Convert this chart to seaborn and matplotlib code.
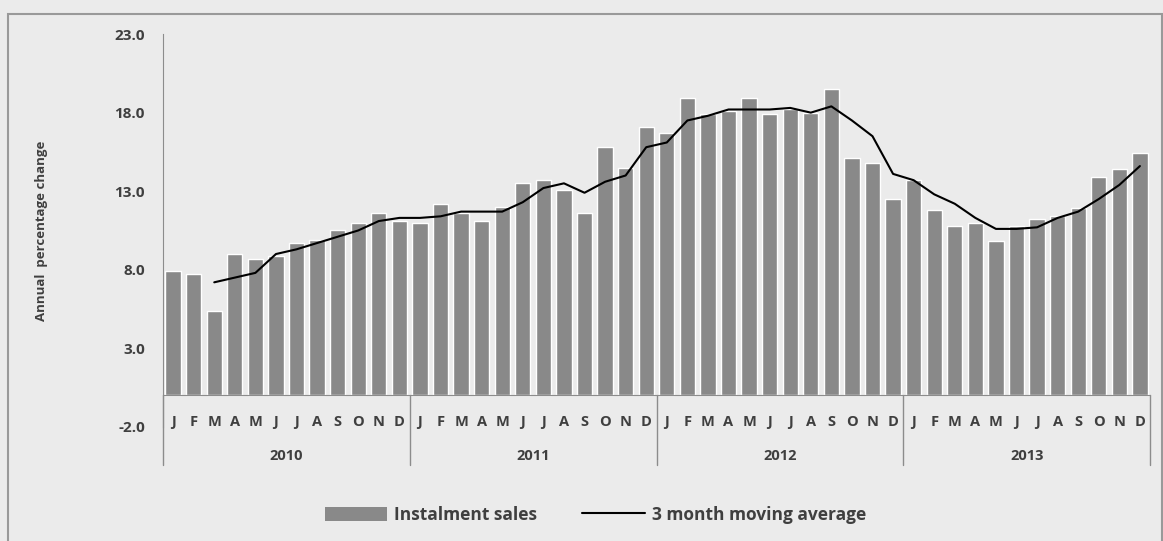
import numpy as np
import pandas as pd
import matplotlib.pyplot as plt
import seaborn as sns
from matplotlib.patches import Rectangle
from matplotlib.lines import Line2D
from matplotlib.patches import Patch

years = ["2010", "2011", "2012", "2013"]
months = ["J", "F", "M", "A", "M", "J", "J", "A", "S", "O", "N", "D"]

# Instalment sales, annual % change
sales_2010 = [7.9, 7.7, 5.4, 9.0, 8.7, 8.9, 9.7, 9.9, 10.5, 11.0, 11.6, 11.1]
sales_2011 = [11.0, 12.2, 11.6, 11.1, 12.0, 13.5, 13.7, 13.1, 11.6, 15.8, 14.5, 17.1]
sales_2012 = [16.7, 18.9, 17.9, 18.1, 18.9, 17.9, 18.2, 18.0, 19.5, 15.1, 14.8, 12.5]
sales_2013 = [13.7, 11.8, 10.8, 11.0, 9.8, 10.8, 11.2, 11.4, 11.9, 13.9, 14.4, 15.4]

# 3 month moving average
ma_2010 = [np.nan, np.nan, 7.2, 7.5, 7.8, 9.0, 9.3, 9.7, 10.1, 10.5, 11.1, 11.3]
ma_2011 = [11.3, 11.4, 11.7, 11.7, 11.7, 12.3, 13.2, 13.5, 12.9, 13.6, 14.0, 15.8]
ma_2012 = [16.1, 17.5, 17.8, 18.2, 18.2, 18.2, 18.3, 18.0, 18.4, 17.5, 16.5, 14.1]
ma_2013 = [13.7, 12.8, 12.2, 11.3, 10.6, 10.6, 10.7, 11.3, 11.7, 12.5, 13.4, 14.6]

sales = sales_2010 + sales_2011 + sales_2012 + sales_2013
ma = ma_2010 + ma_2011 + ma_2012 + ma_2013
df = pd.DataFrame({"idx": range(len(sales)), "sales": sales, "ma": ma})

bg = "#ebebeb"
bar_color = "#898989"
text_color = "#3f3f3f"
axis_color = "#8c8c8c"

sns.set_style("white")
plt.rcParams["font.family"] = ["Open Sans", "DejaVu Sans"]

fig = plt.figure(figsize=(11.63, 5.41), dpi=100, facecolor=bg)
ax = fig.add_axes([0.140, 0.211, 0.849, 0.726], facecolor=bg)

sns.barplot(data=df, x="idx", y="sales", color=bar_color, saturation=1,
            width=0.74, ax=ax)
sns.lineplot(data=df, x="idx", y="ma", color="black", linewidth=1.5, ax=ax)

ax.set_ylim(-2, 23)
ax.set_xlim(-0.5, 47.5)
ax.set_yticks([-2, 3, 8, 13, 18, 23])
ax.set_yticklabels([f"{v:.1f}" for v in [-2, 3, 8, 13, 18, 23]],
                   fontsize=11, fontweight="bold", color=text_color)
ax.tick_params(axis="y", length=5, width=1, color=axis_color, pad=8)

for s in ["top", "right"]:
    ax.spines[s].set_visible(False)
ax.spines["left"].set_color(axis_color)
ax.spines["bottom"].set_color(axis_color)
ax.spines["bottom"].set_position(("data", 0))

ax.set_xticks(range(48))
ax.set_xticklabels(months * 4, fontsize=10.5, fontweight="bold", color=text_color)
ax.tick_params(axis="x", length=0, pad=14)
ax.set_xlabel("")
ax.set_ylabel("Annual  percentage change", fontsize=9.5, fontweight="bold",
              color=text_color, labelpad=48)

# year separators and labels
for k in range(5):
    ax.plot([k * 12 - 0.5, k * 12 - 0.5], [0, -4.45], color=axis_color,
            lw=1, clip_on=False)
for k, yr in enumerate(years):
    ax.text(k * 12 + 5.5, -3.85, yr, ha="center", va="center", fontsize=10.5,
            fontweight="bold", color=text_color, clip_on=False)

handles = [Patch(facecolor=bar_color, edgecolor="none"),
           Line2D([0], [0], color="black", lw=1.5)]
fig.legend(handles, ["Instalment sales", "3 month moving average"],
           loc="center", bbox_to_anchor=(0.512, 0.048), ncol=2, frameon=False,
           handlelength=3.6, handleheight=0.9, handletextpad=0.4,
           columnspacing=2.6, prop={"size": 12.5, "weight": "bold"},
           labelcolor=text_color)

fig.patches.append(Rectangle((8 / 1163, -0.05), 1 - 8 / 1163 - 0.0005,
                             1.05 - 14 / 541, transform=fig.transFigure,
                             fill=False, edgecolor="#999999", lw=1.5))

fig.savefig("out.png", dpi=100, facecolor=bg)
plt.close(fig)
